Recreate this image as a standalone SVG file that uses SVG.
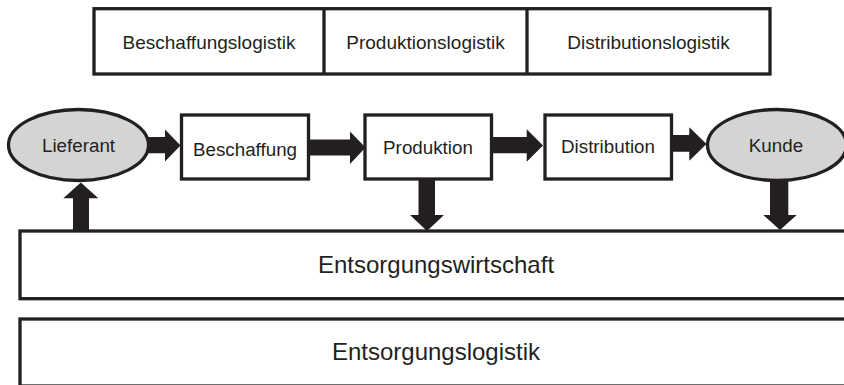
<svg xmlns="http://www.w3.org/2000/svg" width="844" height="385" viewBox="0 0 844 385">
<style>
.box{fill:#ffffff;stroke:#231f20;stroke-width:3.3}
.ell{fill:#d4d4d4;stroke:#231f20;stroke-width:3.3}
.arr{fill:#231f20;stroke:none}
text{font-family:"Liberation Sans",Arial,sans-serif;fill:#231f20;text-anchor:middle}
.t19{font-size:19px}
.tm{font-size:18.8px}
.t24{font-size:24px}
</style>
<rect width="844" height="385" fill="#ffffff"/>
<g id="logistik-header">
<rect class="box" x="94" y="8.7" width="676" height="65.3"/>
<line x1="324" y1="8.7" x2="324" y2="74" stroke="#231f20" stroke-width="3.3"/>
<line x1="527" y1="8.7" x2="527" y2="74" stroke="#231f20" stroke-width="3.3"/>
<text class="t19" x="209" y="48.5">Beschaffungslogistik</text>
<text class="t19" x="425.5" y="48.5">Produktionslogistik</text>
<text class="t19" x="648.5" y="48.5">Distributionslogistik</text>
</g>
<g id="entsorgungswirtschaft">
<rect class="box" x="20" y="231" width="840" height="67.7"/>
<text class="t24" x="436" y="273">Entsorgungswirtschaft</text>
</g>
<g id="entsorgungslogistik">
<rect class="box" x="20" y="319" width="840" height="67"/>
<text class="t24" x="436" y="360">Entsorgungslogistik</text>
</g>
<g id="lieferant">
<ellipse class="ell" cx="78.5" cy="145" rx="70" ry="35.5"/>
<text class="tm" x="78.5" y="152">Lieferant</text>
</g>
<g id="beschaffung">
<rect class="box" x="181.5" y="115" width="127" height="64"/>
<text class="tm" x="245" y="155.5">Beschaffung</text>
</g>
<g id="produktion">
<rect class="box" x="365" y="115" width="126.5" height="64"/>
<text class="tm" x="428" y="154">Produktion</text>
</g>
<g id="distribution">
<rect class="box" x="545" y="115" width="126.5" height="64"/>
<text class="tm" x="608" y="153">Distribution</text>
</g>
<g id="kunde">
<ellipse class="ell" cx="777" cy="145" rx="69.5" ry="35.5"/>
<text class="tm" x="776" y="152">Kunde</text>
</g>
<g id="connectors">
<polygon class="arr" points="147,137 165,137 165,129.5 180.5,145.5 165,161.5 165,153.3 147,153.3"/>
<polygon class="arr" points="310,139.5 350,139.5 350,131.5 365.5,147.5 350,164 350,155.5 310,155.5"/>
<polygon class="arr" points="493,137 526.7,137 526.7,129.3 543,145.5 526.7,161.7 526.7,153.3 493,153.3"/>
<polygon class="arr" points="673,135 689.3,135 689.3,127.3 706.5,144 689.3,160.7 689.3,151.7 673,151.7"/>
<polygon class="arr" points="418.5,180 435,180 435,215 444,215 427,231 410,215 418.5,215"/>
<polygon class="arr" points="770,179 788.3,179 788.3,215 796.7,215 780,230 763.3,215 770,215"/>
<polygon class="arr" points="73,231 89,231 89,198.3 98.3,198.3 80.8,182.5 63.3,198.3 73,198.3"/>
</g>
</svg>
